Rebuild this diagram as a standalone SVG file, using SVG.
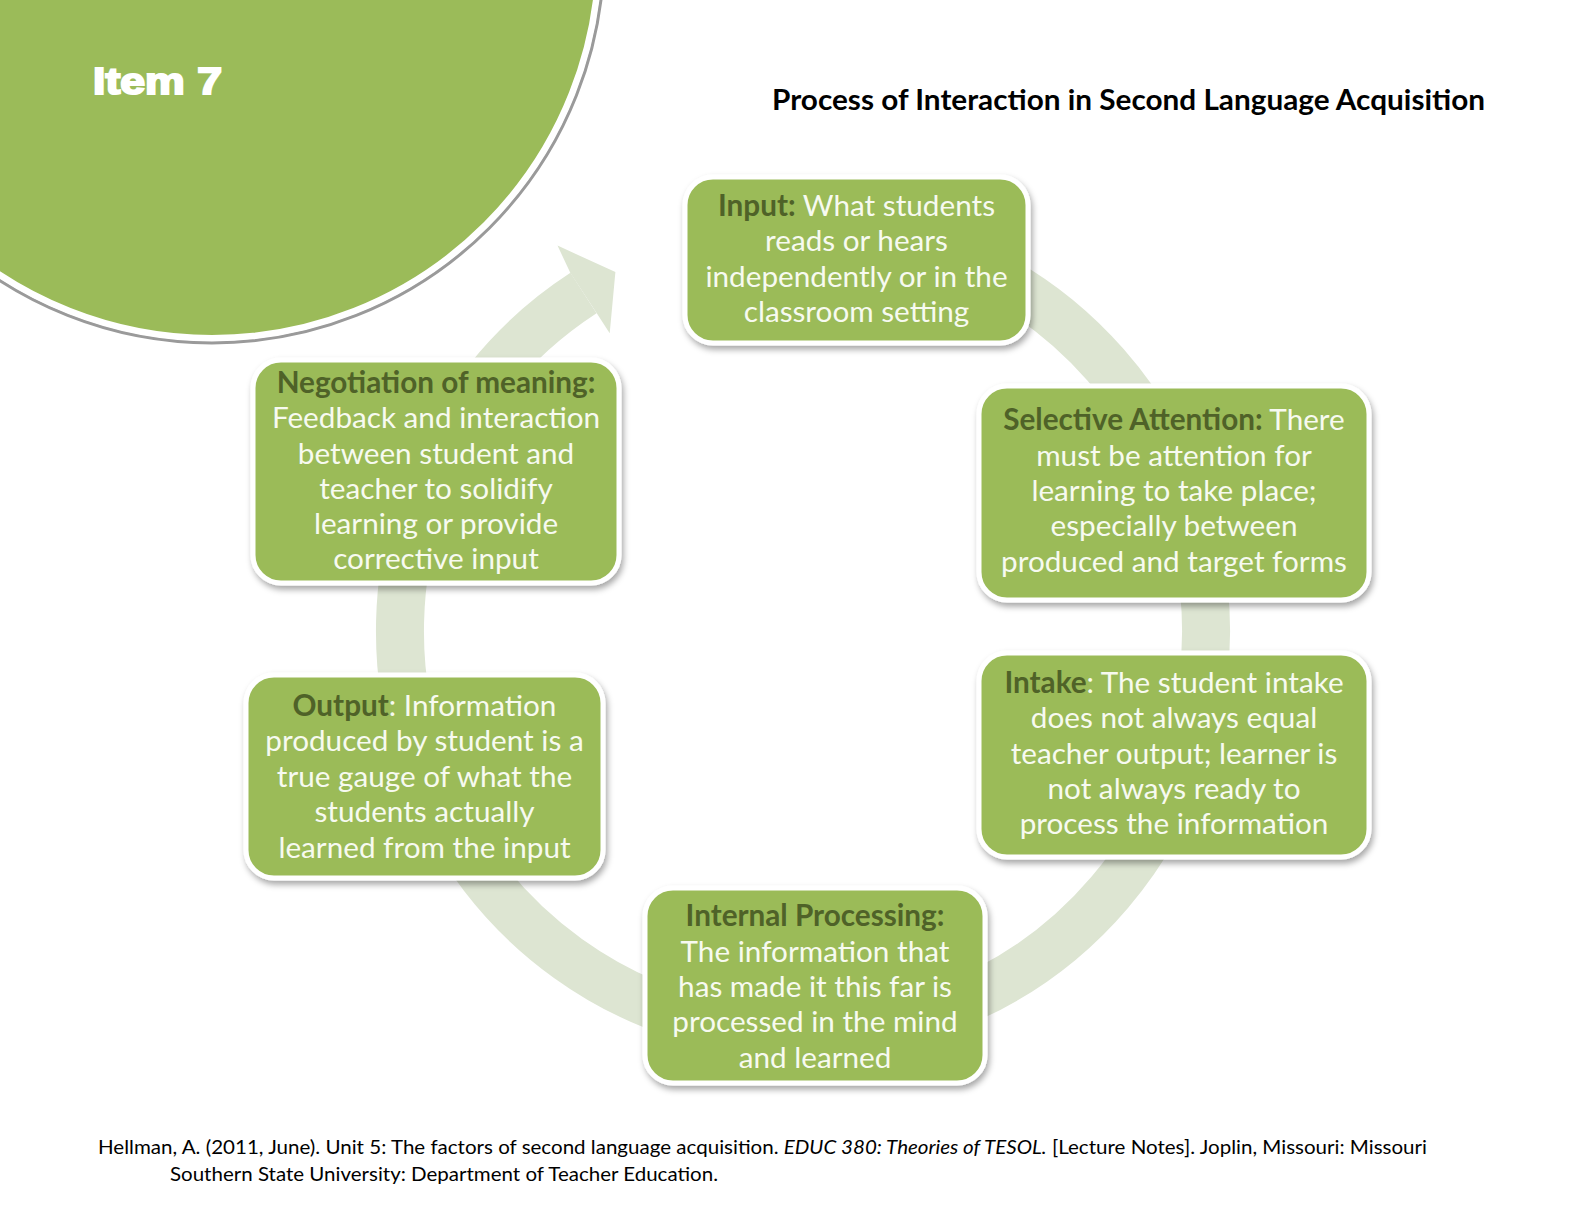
<svg xmlns="http://www.w3.org/2000/svg" width="1584" height="1224" viewBox="0 0 1584 1224">
<defs>
<style>
.box{fill:#9bbb59;stroke:#ffffff;stroke-width:5;filter:url(#sh);}
.t{font-family:Lato,"Liberation Sans",sans-serif;font-size:29.7px;fill:#f7faf0;text-anchor:middle;}
.b{font-weight:bold;fill:#4f6228;}
.ring{fill:none;stroke:#dde5d2;stroke-width:48;}
</style>
<filter id="sh" x="-10%" y="-10%" width="125%" height="130%">
<feDropShadow dx="2" dy="4" stdDeviation="3" flood-color="#000000" flood-opacity="0.35"/>
</filter>
</defs>
<rect width="1584" height="1224" fill="#ffffff"/>
<g id="corner">
<circle cx="212" cy="-49" r="392" fill="none" stroke="#9a9a9a" stroke-width="3"/>
<circle cx="212" cy="-49" r="387" fill="#9bbb59" stroke="#ffffff" stroke-width="6"/>
<text x="93" y="94" font-family="'Liberation Sans',Arial,sans-serif" font-weight="bold" font-size="36" fill="#ffffff" textLength="129" lengthAdjust="spacingAndGlyphs" stroke="#ffffff" stroke-width="2">Item 7</text>
</g>
<text id="title" x="772" y="110" font-family="Lato,'Liberation Sans',sans-serif" font-weight="bold" font-size="28" fill="#000000" textLength="713" lengthAdjust="spacingAndGlyphs">Process of Interaction in Second Language Acquisition</text>
<g id="connectors">
<path class="ring" d="M 753.9 231.0 A 403 403 0 1 1 583.5 293.0"/>
<polygon points="570.4,272.9 557.5,245.6 615.4,272.1 609.7,333.3 596.6,313.1" fill="#dde5d2"/>
</g>
<g id="input">
<rect class="box" x="685" y="177" width="343" height="166" rx="28"/>
<text class="t" x="856.5" y="216"><tspan class="b">Input:</tspan> What students</text>
<text class="t" x="856.5" y="251">reads or hears</text>
<text class="t" x="856.5" y="287">independently or in the</text>
<text class="t" x="856.5" y="322">classroom setting</text>
</g>
<g id="selective">
<rect class="box" x="979" y="386" width="390" height="214" rx="28"/>
<text class="t" x="1174" y="430"><tspan class="b">Selective Attention:</tspan> There</text>
<text class="t" x="1174" y="466">must be attention for</text>
<text class="t" x="1174" y="501">learning to take place;</text>
<text class="t" x="1174" y="536">especially between</text>
<text class="t" x="1174" y="572">produced and target forms</text>
</g>
<g id="intake">
<rect class="box" x="979" y="653" width="390" height="204" rx="28"/>
<text class="t" x="1174" y="693"><tspan class="b">Intake</tspan>: The student intake</text>
<text class="t" x="1174" y="728">does not always equal</text>
<text class="t" x="1174" y="764">teacher output; learner is</text>
<text class="t" x="1174" y="799">not always ready to</text>
<text class="t" x="1174" y="834">process the information</text>
</g>
<g id="internal">
<rect class="box" x="645" y="888" width="340" height="195" rx="28"/>
<text class="t" x="815" y="926"><tspan class="b">Internal Processing:</tspan></text>
<text class="t" x="815" y="962">The information that</text>
<text class="t" x="815" y="997">has made it this far is</text>
<text class="t" x="815" y="1032">processed in the mind</text>
<text class="t" x="815" y="1068">and learned</text>
</g>
<g id="output">
<rect class="box" x="246" y="675" width="357" height="203" rx="28"/>
<text class="t" x="424.5" y="716"><tspan class="b">Output</tspan>: Information</text>
<text class="t" x="424.5" y="751">produced by student is a</text>
<text class="t" x="424.5" y="787">true gauge of what the</text>
<text class="t" x="424.5" y="822">students actually</text>
<text class="t" x="424.5" y="858">learned from the input</text>
</g>
<g id="negotiation">
<rect class="box" x="253" y="360" width="366" height="223" rx="28"/>
<text class="t" x="436" y="393"><tspan class="b">Negotiation of meaning:</tspan></text>
<text class="t" x="436" y="428">Feedback and interaction</text>
<text class="t" x="436" y="464">between student and</text>
<text class="t" x="436" y="499">teacher to solidify</text>
<text class="t" x="436" y="534">learning or provide</text>
<text class="t" x="436" y="569">corrective input</text>
</g>
<g id="footnote" font-family="Lato,'Liberation Sans',sans-serif" font-size="19" fill="#000000">
<text x="98" y="1154" textLength="1329" lengthAdjust="spacingAndGlyphs">Hellman, A. (2011, June). Unit 5: The factors of second language acquisition. <tspan font-style="italic">EDUC 380: Theories of TESOL.</tspan> [Lecture Notes]. Joplin, Missouri: Missouri</text>
<text x="170" y="1181" textLength="548" lengthAdjust="spacingAndGlyphs">Southern State University: Department of Teacher Education.</text>
</g>
</svg>
